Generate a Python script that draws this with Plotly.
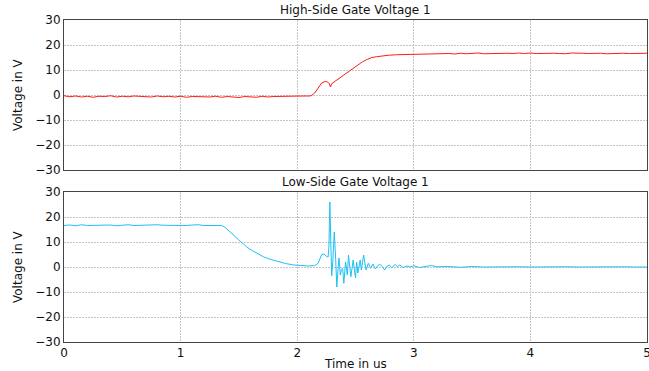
import plotly.graph_objects as go

# ---- data ----
hs_title = "High-Side Gate Voltage 1"
ls_title = "Low-Side Gate Voltage 1"
x_label = "Time in us"
y_label = "Voltage in V"

hs_time = [0.0, 0.05, 0.1, 0.15, 0.2, 0.25, 0.3, 0.35, 0.4, 0.45, 0.5, 0.55, 0.6, 0.65, 0.7, 0.75,
           0.8, 0.85, 0.9, 0.95, 1.0, 1.05, 1.1, 1.15, 1.2, 1.25, 1.3, 1.35, 1.4, 1.45, 1.5, 1.55,
           1.6, 1.65, 1.7, 1.75, 1.8, 1.85, 1.9, 1.95, 2.0, 2.05, 2.1,
           2.12, 2.15, 2.18, 2.21, 2.24, 2.26, 2.275, 2.285, 2.295, 2.31, 2.34, 2.37, 2.40, 2.44,
           2.48, 2.52, 2.56, 2.60, 2.64, 2.68, 2.72, 2.78, 2.85, 2.92, 3.0, 3.05, 3.1, 3.15, 3.2,
           3.25, 3.3, 3.35, 3.4, 3.45, 3.5, 3.55, 3.6, 3.65, 3.7, 3.75, 3.8, 3.85, 3.9, 3.95, 4.0,
           4.05, 4.1, 4.15, 4.2, 4.25, 4.3, 4.35, 4.4, 4.45, 4.5, 4.55, 4.6, 4.65, 4.7, 4.75, 4.8,
           4.85, 4.9, 4.95, 5.0]
hs_volt = [-0.3, -0.7, -0.4, -0.8, -0.5, -0.9, -0.5, -0.6, -0.3, -0.8, -0.5, -0.7, -0.4, -0.6, -0.5, -0.8,
           -0.4, -0.7, -0.5, -0.8, -0.5, -0.9, -0.6, -0.5, -0.7, -0.8, -0.5, -0.9, -0.6, -0.8, -1.0, -0.6,
           -0.8, -0.9, -0.5, -0.8, -0.6, -0.5, -0.7, -0.4, -0.5, -0.4, -0.4,
           -0.3, 0.8, 2.8, 4.8, 5.4, 5.2, 4.6, 3.2, 4.5, 5.0, 6.2, 7.1, 8.2, 9.4,
           11.0, 12.3, 13.3, 14.2, 15.0, 15.3, 15.6, 15.9, 16.1, 16.2, 16.3, 16.4, 16.5, 16.4, 16.6,
           16.5, 16.6, 16.4, 16.7, 16.5, 16.6, 16.8, 16.5, 16.6, 16.7, 16.5, 16.7, 16.6, 16.8, 16.6, 16.8,
           16.6, 16.7, 16.5, 16.7, 16.6, 16.5, 16.8, 16.6, 16.7, 16.6, 16.8, 16.7, 16.5, 16.6, 16.8, 16.7,
           16.6, 16.7, 16.5, 16.7]

ls_time = [0.0, 0.05, 0.1, 0.15, 0.2, 0.25, 0.3, 0.35, 0.4, 0.45, 0.5, 0.55, 0.6, 0.65, 0.7, 0.75,
           0.8, 0.85, 0.9, 0.95, 1.0, 1.05, 1.1, 1.15, 1.2, 1.25, 1.3, 1.35,
           1.38, 1.42, 1.46, 1.50, 1.54, 1.57, 1.62, 1.66, 1.71, 1.76, 1.80, 1.85, 1.90, 1.97, 2.03,
           2.10, 2.15, 2.18, 2.21, 2.23, 2.25, 2.265, 2.272, 2.28, 2.288, 2.296, 2.305, 2.318, 2.33,
           2.34, 2.35, 2.358, 2.37, 2.38, 2.39, 2.40, 2.415, 2.43, 2.44, 2.46, 2.48, 2.50, 2.51, 2.52,
           2.54, 2.55, 2.57, 2.59, 2.61, 2.63, 2.65, 2.67, 2.69, 2.71, 2.73, 2.75, 2.77, 2.79, 2.81,
           2.84, 2.86, 2.88, 2.91, 2.94, 2.97, 3.0, 3.05, 3.1, 3.15, 3.2, 3.3, 3.4, 3.5, 3.6, 3.7,
           3.8, 3.9, 4.0, 4.1, 4.2, 4.3, 4.4, 4.5, 4.6, 4.7, 4.8, 4.9, 5.0]
ls_volt = [16.6, 16.8, 16.5, 16.9, 16.6, 16.7, 16.5, 16.6, 16.8, 16.5, 16.6, 16.9, 16.6, 16.7, 16.5, 16.6,
           16.9, 16.7, 16.6, 16.8, 16.7, 16.6, 16.8, 16.9, 16.6, 16.7, 16.6, 16.6,
           15.9, 14.1, 12.4, 10.8, 9.2, 7.9, 6.4, 5.3, 4.1, 3.2, 2.6, 2.0, 1.4, 0.8, 0.5,
           0.4, 0.6, 1.5, 5.0, 5.2, 4.3, 4.0, 8.0, 26.0, 10.0, -3.5, 2.0, 14.0, 3.0,
           -8.0, -1.0, 3.6, -3.2, -1.0, -0.5, -6.5, 2.0, -3.2, 4.8, -3.9, 2.8, -4.4, 2.0, -2.4,
           2.8, -1.2, 4.8, -1.2, 1.5, -0.5, 1.2, -0.8, 0.5, 1.0, 0.2, -1.2, 0.3, 0.8, -0.3,
           1.0, 0.2, 0.8, -0.2, 0.4, 0.0, 0.5, -0.2, 0.3, 0.6, 0.1, 0.2, -0.1, 0.2, 0.0, 0.1,
           0.0, 0.1, 0.0, 0.1, 0.0, 0.1, 0.0, 0.1, 0.0, 0.0, 0.1, 0.0, 0.0]

x_ticks = [0, 1, 2, 3, 4, 5]
y_ticks = [-30, -20, -10, 0, 10, 20, 30]

# ---- figure ----
W, H = 649, 371
ml, mr, mt, mb = 64, 2, 20, 29
ph = H - mt - mb          # 322
pw = W - ml - mr          # 583
top_dom = [172 / ph, 1.0]
bot_dom = [0.0, 150 / ph]

fig = go.Figure()
fig.add_trace(go.Scatter(x=hs_time, y=hs_volt, mode="lines",
                         line=dict(color="#ff1a1a", width=1), xaxis="x2", yaxis="y2",
                         showlegend=False))
fig.add_trace(go.Scatter(x=ls_time, y=ls_volt, mode="lines",
                         line=dict(color="#1ec0f5", width=1), xaxis="x", yaxis="y",
                         showlegend=False))

font = dict(family="DejaVu Sans", size=12, color="#111")
grid = dict(showgrid=True, gridcolor="#c4c4c4", griddash="2px,1px", gridwidth=1,
            zeroline=False, showline=True, mirror=True, linecolor="#444", linewidth=1,
            ticks="", automargin=False, ticklabeloverflow="allow")
common_x = dict(grid, range=[0, 5], tickvals=x_ticks)
common_y = dict(grid, range=[-30, 30], tickvals=y_ticks, tickfont=font)

fig.update_layout(
    width=W, height=H, template="none",
    paper_bgcolor="white", plot_bgcolor="white",
    margin=dict(l=ml, r=mr, t=mt, b=mb, pad=0),
    font=font,
    xaxis=dict(common_x, domain=[0, 1], anchor="y", tickfont=font),
    yaxis=dict(common_y, domain=bot_dom, anchor="x"),
    xaxis2=dict(common_x, domain=[0, 1], anchor="y2", matches="x", showticklabels=False),
    yaxis2=dict(common_y, domain=top_dom, anchor="x2"),
    annotations=[
        dict(text=hs_title, xref="paper", yref="paper", x=0.5, y=1.0, yshift=1,
             xanchor="center", yanchor="bottom", showarrow=False, font=font),
        dict(text=ls_title, xref="paper", yref="paper", x=0.5, y=bot_dom[1], yshift=1,
             xanchor="center", yanchor="bottom", showarrow=False, font=font),
        dict(text=x_label, xref="paper", yref="paper", x=0.5, y=0, yshift=-13,
             xanchor="center", yanchor="top", showarrow=False, font=font),
        dict(text=y_label, xref="paper", yref="paper", x=-46 / pw,
             y=(top_dom[0] + 1) / 2, xanchor="center", yanchor="middle", textangle=-90,
             showarrow=False, font=font),
        dict(text=y_label, xref="paper", yref="paper", x=-46 / pw,
             y=bot_dom[1] / 2, xanchor="center", yanchor="middle", textangle=-90,
             showarrow=False, font=font),
    ],
)

fig.write_html("out.html",
               config={"displayModeBar": False},
               post_script="document.documentElement.style.margin='0';"
                           "document.body.style.margin='0';"
                           "document.body.style.overflow='hidden';")
